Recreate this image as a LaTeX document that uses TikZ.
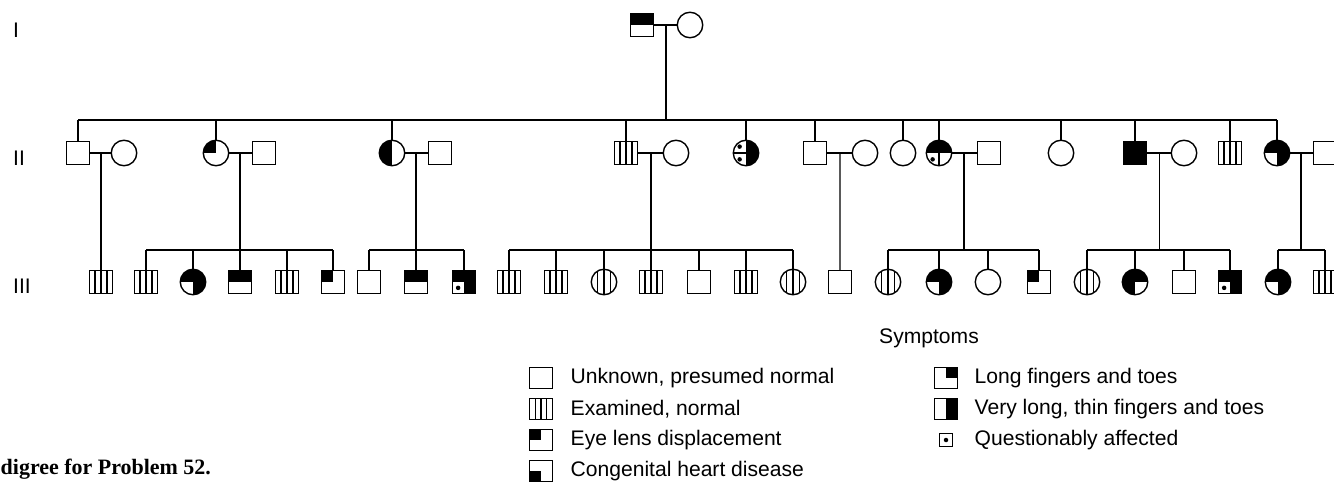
\documentclass[tikz,border=0pt]{standalone}
\usepackage{fontspec}
\setmainfont{Liberation Sans}
\newfontfamily\capfont{Liberation Serif}
\usetikzlibrary{calc}

% fillings drawn inside a symbol
\newcommand{\qfill}[2][black]{\fill[#1] (path picture bounding box.center) rectangle (path picture bounding box.#2);}
\newcommand{\halftop}{\fill (path picture bounding box.west) rectangle (path picture bounding box.north east);}
\newcommand{\halfleft}{\fill (path picture bounding box.south) rectangle (path picture bounding box.north west);}
\newcommand{\halfright}{\fill (path picture bounding box.south) rectangle (path picture bounding box.north east);}
\newcommand{\stripes}{\foreach \s in {0.25,0.5,0.75}{\draw ($(path picture bounding box.south west)!\s!(path picture bounding box.south east)$) -- ($(path picture bounding box.north west)!\s!(path picture bounding box.north east)$);}}
\newcommand{\qdot}[1]{\fill[black] ($(path picture bounding box.center)!0.5!(path picture bounding box.#1)$) circle (0.045cm);}

\begin{document}
\begin{tikzpicture}[x=0.02cm,y=-0.02cm,line width=0.8pt,
every node/.style={font=\fontsize{12}{14}\selectfont},
ind/.style={draw, inner sep=0pt, outer sep=0pt, line width=0.8pt},
male/.style={ind, rectangle, minimum size=0.47cm},
female/.style={ind, circle, minimum size=0.51cm},
sym/.style={path picture={#1}},
key/.style={ind, rectangle, minimum width=0.46cm, minimum height=0.42cm},
keytext/.style={anchor=west, inner sep=0pt}]
\useasboundingbox (0,0) rectangle (1334,483);
\clip (0,0) rectangle (1334,483);
% generation labels
\node (gI) at (16,30) {I};
\node (gII) at (19,158) {II};
\node (gIII) at (22,286) {III};
% generation I
\node[male, sym={\halftop}] (p1) at (642,25) {};
\node[female] (p2) at (690,25) {};
\draw (p1) -- (p2);
\coordinate (mI) at ($(p1)!0.5!(p2)$);
\coordinate (sII) at (0,120);
% generation II
\node[male] (a1) at (78,153) {};
\node[female] (a1w) at (124,153) {};
\node[female, sym={\qfill{north west}}] (a2) at (216,153) {};
\node[male] (a2h) at (264,153) {};
\node[female, sym={\halfleft}] (a3) at (392,153) {};
\node[male] (a3h) at (440,153) {};
\node[male, sym={\stripes}] (a4) at (626,153) {};
\node[female] (a4w) at (676,153) {};
\node[female, sym={\halfright\draw (path picture bounding box.west) -- (path picture bounding box.center);\qdot{north west}\qdot{south west}}] (a5) at (746,153) {};
\node[male] (a6) at (815,153) {};
\node[female] (a6w) at (865,153) {};
\node[female] (a7) at (903,153) {};
\node[female, sym={\halftop\draw (path picture bounding box.south) -- (path picture bounding box.center);\qdot{south west}}] (a8) at (939,153) {};
\node[male] (a8h) at (989,153) {};
\node[female] (a9) at (1061,153) {};
\node[male, fill=black] (a10) at (1135,153) {};
\node[female] (a10w) at (1184,153) {};
\node[male, sym={\stripes}] (a11) at (1230,153) {};
\node[female, fill=black, sym={\qfill[white]{south west}}] (a12) at (1277,153) {};
\node[male] (a12h) at (1325,153) {};
\draw (mI) -- (mI |- sII);
\draw (a1 |- sII) -- (a12 |- sII);
\draw (a1) -- (a1 |- sII); \draw (a2) -- (a2 |- sII); \draw (a3) -- (a3 |- sII);
\draw (a4) -- (a4 |- sII); \draw (a5) -- (a5 |- sII); \draw (a6) -- (a6 |- sII);
\draw (a7) -- (a7 |- sII); \draw (a8) -- (a8 |- sII); \draw (a9) -- (a9 |- sII);
\draw (a10) -- (a10 |- sII); \draw (a11) -- (a11 |- sII); \draw (a12) -- (a12 |- sII);
% couples
\draw (a1) -- (a1w); \draw (a2) -- (a2h); \draw (a3) -- (a3h); \draw (a4) -- (a4w);
\draw (a6) -- (a6w); \draw (a8) -- (a8h); \draw (a10) -- (a10w); \draw (a12) -- (a12h);
\coordinate (m1) at ($(a1)!0.5!(a1w)$);
\coordinate (m2) at ($(a2)!0.5!(a2h)$);
\coordinate (m3) at ($(a3)!0.5!(a3h)$);
\coordinate (m4) at ($(a4)!0.5!(a4w)$);
\coordinate (m5) at ($(a6)!0.5!(a6w)$);
\coordinate (m6) at ($(a8)!0.5!(a8h)$);
\coordinate (m7) at ($(a10)!0.5!(a10w)$);
\coordinate (m8) at ($(a12)!0.5!(a12h)$);
\coordinate (sIII) at (0,250);
% generation III
\node[male, sym={\stripes}] (b1) at (101,282) {};
\node[male, sym={\stripes}] (b2) at (146,282) {};
\node[female, fill=black, sym={\qfill[white]{south west}}] (b3) at (193,282) {};
\node[male, sym={\halftop}] (b4) at (240,282) {};
\node[male, sym={\stripes}] (b5) at (287,282) {};
\node[male, sym={\qfill{north west}}] (b6) at (333,282) {};
\node[male] (b7) at (369,282) {};
\node[male, sym={\halftop}] (b8) at (416,282) {};
\node[male, fill=black, sym={\qfill[white]{south west}\qdot{south west}}] (b9) at (464,282) {};
\node[male, sym={\stripes}] (b10) at (509,282) {};
\node[male, sym={\stripes}] (b11) at (556,282) {};
\node[female, sym={\stripes}] (b12) at (604,282) {};
\node[male, sym={\stripes}] (b13) at (651,282) {};
\node[male] (b14) at (699,282) {};
\node[male, sym={\stripes}] (b15) at (746,282) {};
\node[female, sym={\stripes}] (b16) at (793,282) {};
\node[male] (b17) at (840,282) {};
\node[female, sym={\stripes}] (b18) at (888,282) {};
\node[female, fill=black, sym={\qfill[white]{south west}}] (b19) at (939,282) {};
\node[female] (b20) at (988,282) {};
\node[male, sym={\qfill{north west}}] (b21) at (1039,282) {};
\node[female, sym={\stripes}] (b22) at (1087,282) {};
\node[female, fill=black, sym={\qfill[white]{south east}}] (b23) at (1135,282) {};
\node[male] (b24) at (1184,282) {};
\node[male, fill=black, sym={\qfill[white]{south west}\qdot{south west}}] (b25) at (1230,282) {};
\node[female, fill=black, sym={\qfill[white]{south west}}] (b26) at (1278,282) {};
\node[male, sym={\stripes}] (b27) at (1325,282) {};
% descent lines
\draw (m1) -- (b1);
\draw (m5) -- (b17);
\draw (m2) -- (m2 |- sIII); \draw (b2 |- sIII) -- (b6 |- sIII);
\draw (m3) -- (m3 |- sIII); \draw (b7 |- sIII) -- (b9 |- sIII);
\draw (m4) -- (m4 |- sIII); \draw (b10 |- sIII) -- (b16 |- sIII);
\draw (m6) -- (m6 |- sIII); \draw (b18 |- sIII) -- (b21 |- sIII);
\draw (m7) -- (m7 |- sIII); \draw (b22 |- sIII) -- (b25 |- sIII);
\draw (m8) -- (m8 |- sIII); \draw (b26 |- sIII) -- (b27 |- sIII);
\draw (b2) -- (b2 |- sIII); \draw (b3) -- (b3 |- sIII); \draw (b4) -- (b4 |- sIII);
\draw (b5) -- (b5 |- sIII); \draw (b6) -- (b6 |- sIII); \draw (b7) -- (b7 |- sIII);
\draw (b8) -- (b8 |- sIII); \draw (b9) -- (b9 |- sIII); \draw (b10) -- (b10 |- sIII);
\draw (b11) -- (b11 |- sIII); \draw (b12) -- (b12 |- sIII); \draw (b13) -- (b13 |- sIII);
\draw (b14) -- (b14 |- sIII); \draw (b15) -- (b15 |- sIII); \draw (b16) -- (b16 |- sIII);
\draw (b18) -- (b18 |- sIII); \draw (b19) -- (b19 |- sIII); \draw (b20) -- (b20 |- sIII);
\draw (b21) -- (b21 |- sIII); \draw (b22) -- (b22 |- sIII); \draw (b23) -- (b23 |- sIII);
\draw (b24) -- (b24 |- sIII); \draw (b25) -- (b25 |- sIII); \draw (b26) -- (b26 |- sIII);
\draw (b27) -- (b27 |- sIII);
% legend
\node (symptoms) at (929,338) {Symptoms};
\node[key] (k1) at (541,378) {};
\node[keytext] (t1) at (570,378) {Unknown, presumed normal};
\node[key, sym={\stripes}] (k2) at (541,409) {};
\node[keytext] (t2) at (570,409) {Examined, normal};
\node[key, sym={\qfill{north west}}] (k3) at (541,440) {};
\node[keytext] (t3) at (570,440) {Eye lens displacement};
\node[key, sym={\qfill{south west}}] (k4) at (541,471) {};
\node[keytext] (t4) at (570,471) {Congenital heart disease};
\node[key, sym={\qfill{north east}}] (k5) at (946,378) {};
\node[keytext] (t5) at (974,378) {Long fingers and toes};
\node[key, sym={\halfright}] (k6) at (946,409) {};
\node[keytext] (t6) at (974,409) {Very long, thin fingers and toes};
\node[ind, rectangle, minimum size=0.25cm, sym={\fill (path picture bounding box.center) circle (0.045cm);}] (k7) at (946,440) {};
\node[keytext] (t7) at (974,440) {Questionably affected};
% caption
\node[anchor=base west, inner sep=0pt, font=\capfont\bfseries\fontsize{12.5}{14}\selectfont] (cap) at (0,474) {digree for Problem 52.};
\end{tikzpicture}
\end{document}
